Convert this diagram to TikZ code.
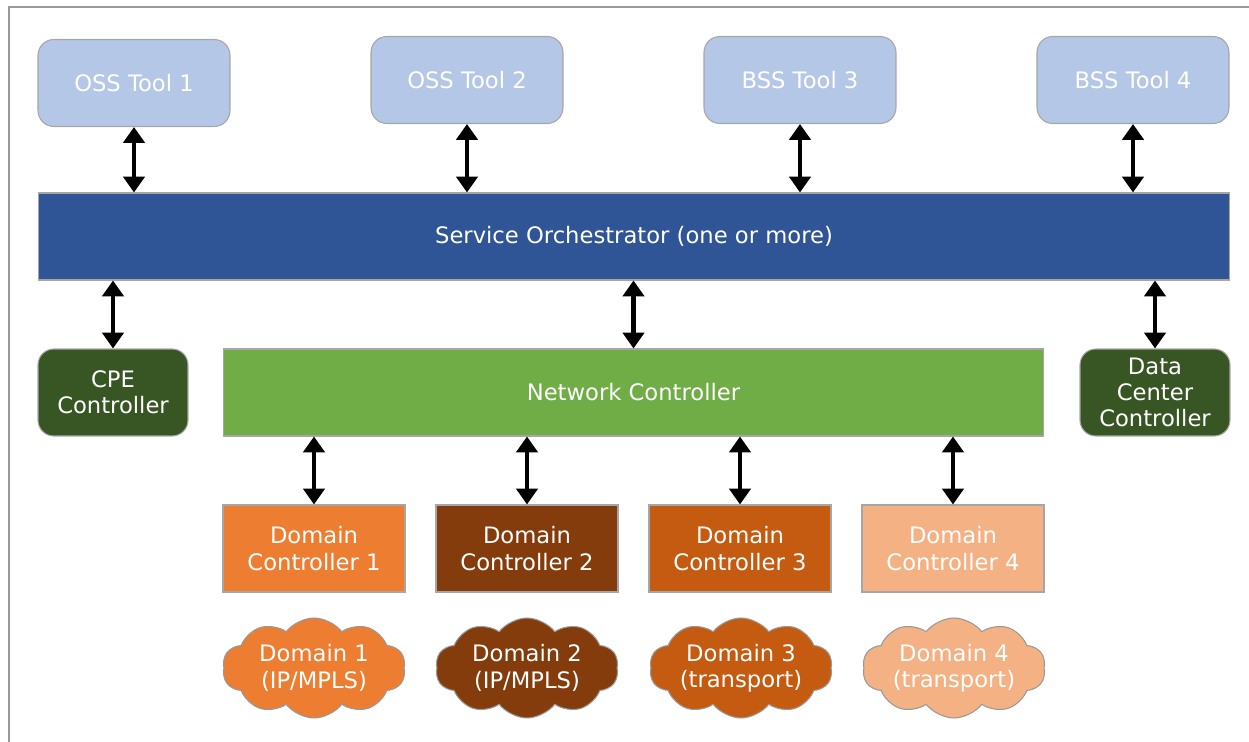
\documentclass[tikz,border=0pt]{standalone}
\usepackage{fontspec}
\setmainfont{DejaVu Sans}
\usepackage{xcolor}
\usepackage{tikz}
\usetikzlibrary{shapes.symbols, arrows.meta, positioning, calc}

\definecolor{toolblue}{HTML}{B4C7E7}
\definecolor{orchblue}{HTML}{2F5597}
\definecolor{ctrlgreen}{HTML}{70AD47}
\definecolor{darkgreen}{HTML}{375623}
\definecolor{domA}{HTML}{ED7D31}
\definecolor{domB}{HTML}{843C0C}
\definecolor{domC}{HTML}{C55A11}
\definecolor{domD}{HTML}{F4B183}

\begin{document}
\begin{tikzpicture}[
  x=0.02cm, y=-0.02cm,
  box/.style={draw=gray!70, line width=0.6pt, text=white, align=center,
              font=\fontsize{12.9}{15}\selectfont, inner sep=2pt,
              minimum height=1.74cm},
  tool/.style={box, fill=toolblue, rounded corners=9pt, minimum width=3.84cm},
  orch/.style={box, fill=orchblue, minimum width=23.84cm},
  netctl/.style={box, fill=ctrlgreen, minimum width=16.42cm},
  sidectl/.style={box, fill=darkgreen, rounded corners=9pt},
  domctl/.style={box, minimum width=3.64cm},
  dom/.style={cloud, cloud puffs=10, cloud puff arc=105, aspect=1.83,
              draw=gray!80, line width=0.6pt, text=white, align=center,
              font=\fontsize{12.9}{15}\selectfont, inner sep=-12pt,
              minimum width=3.66cm, minimum height=2cm},
  link/.style={line width=2.3pt, {Triangle[width=12pt,length=9pt]}-{Triangle[width=12pt,length=9pt]}},
]
\useasboundingbox (0,0) rectangle (1249,742);
% page frame
\draw[gray!80, line width=0.8pt] (9,742) -- (9,7) -- (1249,7);

% OSS / BSS tools
\node[tool] (t1) at (134,83) {OSS Tool 1};
\node[tool] (t2) at (467,80) {OSS Tool 2};
\node[tool] (t3) at (800,80) {BSS Tool 3};
\node[tool] (t4) at (1133,80) {BSS Tool 4};

% orchestrator
\node[orch] (so) at (634,236.5) {Service Orchestrator (one or more)};

% controllers
\node[sidectl, minimum width=3cm] (cpe) at (113,392.5) {CPE\\Controller};
\node[netctl] (nc) at (633.5,392.5) {Network Controller};
\node[sidectl, minimum width=3cm] (dcc) at (1155,392.5) {Data\\Center\\Controller};

% domain controllers
\node[domctl, fill=domA] (d1) at (314,548.5) {Domain\\Controller 1};
\node[domctl, fill=domB] (d2) at (527,548.5) {Domain\\Controller 2};
\node[domctl, fill=domC] (d3) at (740,548.5) {Domain\\Controller 3};
\node[domctl, fill=domD] (d4) at (953,548.5) {Domain\\Controller 4};

% domains
\node[dom, fill=domA] (n1) at (314,668) {Domain 1\\(IP/MPLS)};
\node[dom, fill=domB] (n2) at (527,668) {Domain 2\\(IP/MPLS)};
\node[dom, fill=domC] (n3) at (741,668) {Domain 3\\(transport)};
\node[dom, fill=domD] (n4) at (954,668) {Domain 4\\(transport)};

% links
\foreach \t in {t1,t2,t3,t4}
  \draw[link] (\t.south) -- (\t.south |- so.north);
\foreach \c in {cpe,nc,dcc}
  \draw[link] (so.south -| \c.north) -- (\c.north);
\foreach \d in {d1,d2,d3,d4}
  \draw[link] (nc.south -| \d.north) -- (\d.north);
\end{tikzpicture}
\end{document}
